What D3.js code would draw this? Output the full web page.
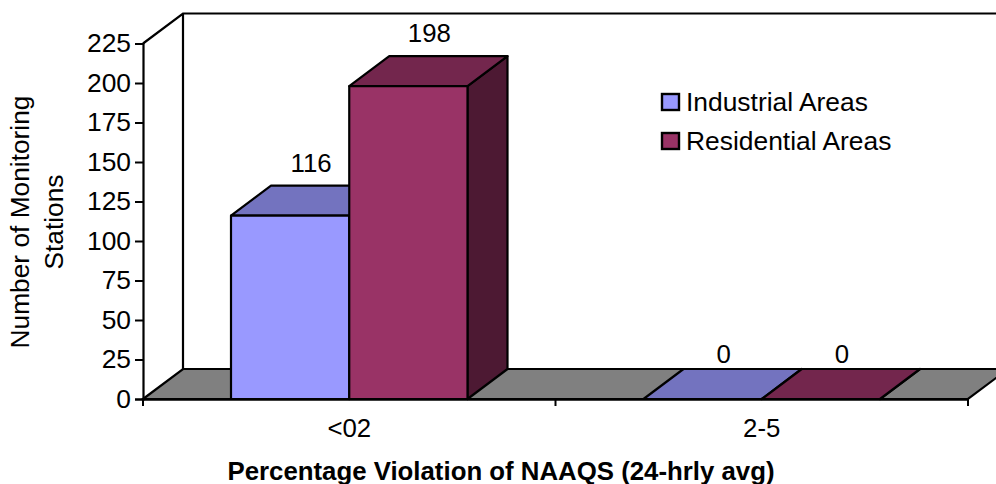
<!DOCTYPE html>
<html>
<head>
<meta charset="utf-8">
<script src="https://cdn.jsdelivr.net/npm/d3@7"></script>
<style>
  html, body { margin: 0; padding: 0; background: #fff; }
  svg { display: block; }
  text { font-family: "Liberation Sans", Arial, sans-serif; fill: #000; }
</style>
</head>
<body>
<svg id="chart" width="996" height="484"></svg>
<script>
const categories = ["<02", "2-5"];
const seriesNames = ["Industrial Areas", "Residential Areas"];
const industrial = [116, 0];
const residential = [198, 0];
const yTicks = [0, 25, 50, 75, 100, 125, 150, 175, 200, 225];

const colors = [
  { front: "#9999ff", top: "#7373bf", side: "#4d4d80" },
  { front: "#993366", top: "#73264d", side: "#4d1933" }
];

const width = 996;
const height = 484;
const depthX = 40;
const depthY = -30;
const fontSize = 25.8;

const svg = d3.select("#chart");

const x = d3.scaleBand().domain(categories).range([143, 968]);
const y = d3.scaleLinear().domain([0, 225]).range([399, 43.5]);
const inner = d3.scaleBand().domain([0, 1]).range([88, x.bandwidth() - 88]);

const poly = (pts) => pts.map(p => p.join(",")).join(" ");

// paredes e chao
const floorG = svg.append("g");
floorG.append("polygon")
  .attr("points", poly([[143, y(0)], [143 + depthX, y(0) + depthY], [968 + depthX, y(0) + depthY], [968, y(0)]]))
  .attr("fill", "#808080").attr("stroke", "#000").attr("stroke-width", 2.2);
floorG.append("path")
  .attr("d", `M${143},${y(225)}L${143 + depthX},${y(225) + depthY}H${width}M${143 + depthX},${y(225) + depthY}V${y(0) + depthY}`)
  .attr("fill", "none").attr("stroke", "#000").attr("stroke-width", 2.2);

// barras
const rows = categories.flatMap((c, i) => [
  { cat: c, s: 0, v: industrial[i] },
  { cat: c, s: 1, v: residential[i] }
]);

const bars = svg.append("g").selectAll("g").data(rows).enter().append("g")
  .attr("stroke", "#000").attr("stroke-width", 2.2).attr("stroke-linejoin", "round");

const x0 = d => x(d.cat) + inner(d.s);
const x1 = d => x0(d) + inner.bandwidth();

bars.append("polygon")
  .attr("points", d => poly([[x1(d), y(d.v)], [x1(d) + depthX, y(d.v) + depthY], [x1(d) + depthX, y(0) + depthY], [x1(d), y(0)]]))
  .attr("fill", d => colors[d.s].side);
bars.append("polygon")
  .attr("points", d => poly([[x0(d), y(d.v)], [x0(d) + depthX, y(d.v) + depthY], [x1(d) + depthX, y(d.v) + depthY], [x1(d), y(d.v)]]))
  .attr("fill", d => colors[d.s].top);
bars.append("rect")
  .attr("x", x0).attr("y", d => y(d.v))
  .attr("width", inner.bandwidth()).attr("height", d => y(0) - y(d.v))
  .attr("fill", d => colors[d.s].front);

// rotulos das barras
svg.append("g").selectAll("text").data(rows).enter().append("text")
  .attr("x", d => (x0(d) + x1(d)) / 2 + 21)
  .attr("y", d => y(d.v) + depthY - (d.v === 0 ? 6 : 14))
  .attr("text-anchor", "middle")
  .attr("font-size", fontSize)
  .text(d => d.v);

// eixos
const yAxis = d3.axisLeft(y).tickValues(yTicks).tickSize(8).tickPadding(4);
const yG = svg.append("g").attr("transform", "translate(143,0)").call(yAxis);
yG.select(".domain").attr("stroke", "#000").attr("stroke-width", 2.2);
yG.selectAll("line").attr("stroke", "#000").attr("stroke-width", 2);
yG.selectAll("text").attr("font-size", 26.4).attr("font-family", null);

const xAxis = d3.axisBottom(x).tickSize(0).tickPadding(20);
const xG = svg.append("g").attr("transform", `translate(0,${y(0)})`).call(xAxis);
xG.select(".domain").attr("stroke", "#000").attr("stroke-width", 2.6);
xG.selectAll("text").attr("font-size", fontSize).attr("font-family", null);

// ticks do eixo x ficam entre as categorias
const xEdges = categories.map(c => x(c)).concat(x.range()[1]);
svg.append("g").selectAll("line").data(xEdges).enter().append("line")
  .attr("x1", d => d).attr("x2", d => d)
  .attr("y1", y(0)).attr("y2", y(0) + 7)
  .attr("stroke", "#000").attr("stroke-width", 2);

// titulos
svg.append("text")
  .attr("x", 501).attr("y", 480)
  .attr("text-anchor", "middle")
  .attr("font-size", fontSize).attr("font-weight", "bold")
  .text("Percentage Violation of NAAQS (24-hrly avg)");

const yTitle = svg.append("text")
  .attr("transform", "translate(0,222) rotate(-90)")
  .attr("text-anchor", "middle")
  .attr("font-size", 26.3);
yTitle.append("tspan").attr("x", 0).attr("y", 29).text("Number of Monitoring");
yTitle.append("tspan").attr("x", 0).attr("y", 63).text("Stations");

// legenda
const legend = svg.append("g").selectAll("g").data(seriesNames).enter().append("g")
  .attr("transform", (d, i) => `translate(662,${94 + i * 39})`);
legend.append("rect")
  .attr("x", 0).attr("y", 0).attr("width", 17).attr("height", 16)
  .attr("fill", (d, i) => colors[i].front)
  .attr("stroke", "#000").attr("stroke-width", 2.4);
legend.append("text")
  .attr("x", 24).attr("y", 17)
  .attr("font-size", 26.4)
  .text(d => d);
</script>
</body>
</html>
